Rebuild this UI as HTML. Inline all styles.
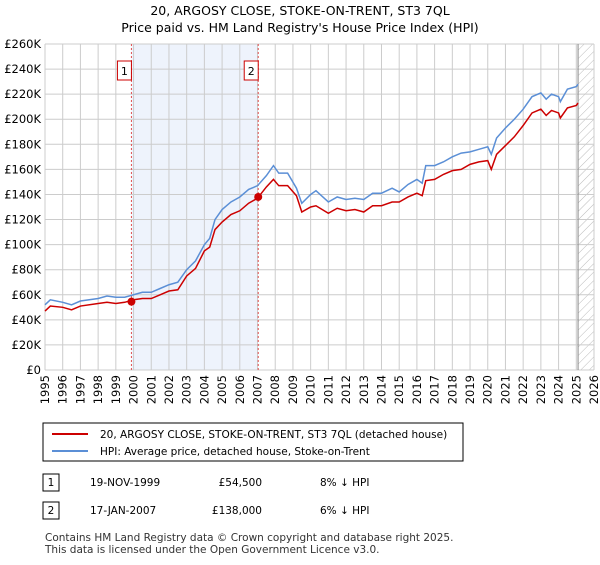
<!DOCTYPE html>
<html><head><meta charset="utf-8"><style>
body{margin:0;background:#fff;font-family:"Liberation Sans","DejaVu Sans",sans-serif;}
svg text{font-family:"DejaVu Sans","Liberation Sans",sans-serif;}
</style></head><body>
<svg width="600" height="560" xmlns="http://www.w3.org/2000/svg">
<defs><pattern id="hatch" width="6" height="6" patternUnits="userSpaceOnUse" patternTransform="rotate(45)"><line x1="0" y1="0" x2="0" y2="6" stroke="#bbb" stroke-width="1"/></pattern></defs>
<text x="300" y="15" font-size="12.5" text-anchor="middle">20, ARGOSY CLOSE, STOKE-ON-TRENT, ST3 7QL</text>
<text x="300" y="32" font-size="12.5" text-anchor="middle">Price paid vs. HM Land Registry's House Price Index (HPI)</text>
<g id="plot"></g>
<g>
<rect x="43" y="423" width="420" height="38" fill="#fff" stroke="#000" stroke-width="1"/>
<line x1="52" y1="434" x2="88" y2="434" stroke="#cc0000" stroke-width="2"/>
<text x="100" y="438" font-size="10.5">20, ARGOSY CLOSE, STOKE-ON-TRENT, ST3 7QL (detached house)</text>
<line x1="52" y1="451" x2="88" y2="451" stroke="#5b8fd6" stroke-width="2"/>
<text x="100" y="455" font-size="10.5">HPI: Average price, detached house, Stoke-on-Trent</text>
</g>
<g font-size="10.5">
<rect x="43" y="474" width="16" height="17" fill="#fff" stroke="#000"/><text x="51" y="486" text-anchor="middle">1</text>
<text x="90" y="486">19-NOV-1999</text><text x="262" y="486" text-anchor="end">£54,500</text><text x="320" y="486">8% ↓ HPI</text>
<rect x="43" y="502" width="16" height="17" fill="#fff" stroke="#000"/><text x="51" y="514" text-anchor="middle">2</text>
<text x="90" y="514">17-JAN-2007</text><text x="262" y="514" text-anchor="end">£138,000</text><text x="320" y="514">6% ↓ HPI</text>
</g>
<text x="45" y="541" font-size="10.5" fill="#333">Contains HM Land Registry data © Crown copyright and database right 2025.</text>
<text x="45" y="553" font-size="10.5" fill="#333">This data is licensed under the Open Government Licence v3.0.</text>
</svg>
<script>
const hpiYears=[1995,1995.3,1996,1996.5,1997,1998,1998.5,1999,1999.5,2000,2000.5,2001,2001.5,2002,2002.5,2003,2003.5,2004,2004.3,2004.6,2005,2005.5,2006,2006.5,2007,2007.5,2007.9,2008.2,2008.7,2009.2,2009.5,2010,2010.3,2011,2011.5,2012,2012.5,2013,2013.5,2014,2014.6,2015,2015.5,2016,2016.3,2016.5,2017,2017.5,2018,2018.5,2019,2019.5,2020,2020.2,2020.5,2021,2021.5,2022,2022.5,2023,2023.3,2023.6,2024,2024.1,2024.5,2025,2025.1];
const hpiValues=[52,56,54,52,55,57,59,58,58,60,62,62,65,68,70,80,87,100,105,120,128,134,138,144,147,155,163,157,157,145,133,140,143,134,138,136,137,136,141,141,145,142,148,152,149,163,163,166,170,173,174,176,178,172,185,193,200,208,218,221,216,220,218,214,224,226,228];
const priceValues=[47,51,50,48,51,53,54,53,54,56,57,57,60,63,64,75,81,95,98,112,118,124,127,133,137,146,152,147,147,139,126,130,131,125,129,127,128,126,131,131,134,134,138,141,139,151,152,156,159,160,164,166,167,160,172,179,186,195,205,208,203,207,205,201,209,211,213];
const saleYears=[1999.88,2007.04];
const saleValues=[54.5,138];
const saleLabels=["1","2"];
const yTicks=[0,20,40,60,80,100,120,140,160,180,200,220,240,260];
const xTicks=[1995,1996,1997,1998,1999,2000,2001,2002,2003,2004,2005,2006,2007,2008,2009,2010,2011,2012,2013,2014,2015,2016,2017,2018,2019,2020,2021,2022,2023,2024,2025,2026];
const X0=45,X1=594,Y0=370,Y1=44,xMin=1995,xMax=2026,yMax=260;
const xs=v=>X0+(v-xMin)/(xMax-xMin)*(X1-X0);
const ys=v=>Y0-v/yMax*(Y0-Y1);
const NS="http://www.w3.org/2000/svg",g=document.getElementById('plot');
function mk(t,a){const e=document.createElementNS(NS,t);for(const k in a)e.setAttribute(k,a[k]);g.appendChild(e);return e;}
let e=mk('rect',{x:xs(saleYears[0]),y:Y1,width:xs(saleYears[1])-xs(saleYears[0]),height:Y0-Y1,fill:'#eef3fc'});


e=mk('rect',{x:xs(2025.1),y:Y1,width:X1-xs(2025.1),height:Y0-Y1,fill:'url(#hatch)'});


yTicks.forEach(t=>{
 e=mk('line',{x1:X0,x2:X1,y1:ys(t),y2:ys(t),stroke:'#ccc'});
 
 
 e=mk('text',{x:X0-4,y:ys(t)+4,'font-size':'11.5','text-anchor':'end'});e.textContent=t===0?'£0':'£'+t+'K';
 
 
});
xTicks.forEach(t=>{
 e=mk('line',{x1:xs(t),x2:xs(t),y1:Y1,y2:Y0,stroke:'#ccc'});
 
 
 e=mk('text',{x:0,y:0,'font-size':'11.5','text-anchor':'end',transform:`translate(${xs(t)+4},${Y0+5}) rotate(-90)`});e.textContent=t;
 
 
});
e=mk('line',{x1:xs(2025.1),x2:xs(2025.1),y1:Y1,y2:Y0,stroke:'#888'});


saleYears.forEach((s,i)=>{
 e=mk('line',{x1:xs(s),x2:xs(s),y1:Y1,y2:Y0,stroke:'#e05050','stroke-dasharray':'2,2'});
 
 
 e=mk('rect',{x:xs(s)-14,y:Y1+17,width:14,height:19,fill:'#fff',stroke:'#cc0000'});
 
 
 e=mk('text',{x:xs(s)-7,y:Y1+31,'font-size':'11','text-anchor':'middle'});e.textContent=saleLabels[i];
 
 
});
e=mk('polyline',{points:hpiYears.map((y,i)=>xs(y)+','+ys(hpiValues[i])).join(' '),fill:'none',stroke:'#5b8fd6','stroke-width':1.5});


e=mk('polyline',{points:hpiYears.map((y,i)=>xs(y)+','+ys(priceValues[i])).join(' '),fill:'none',stroke:'#cc0000','stroke-width':1.5});


saleYears.forEach((s,i)=>{
 e=mk('circle',{cx:xs(s),cy:ys(saleValues[i]),r:4,fill:'#cc0000'});
 
 
});
</script>
</body></html>
